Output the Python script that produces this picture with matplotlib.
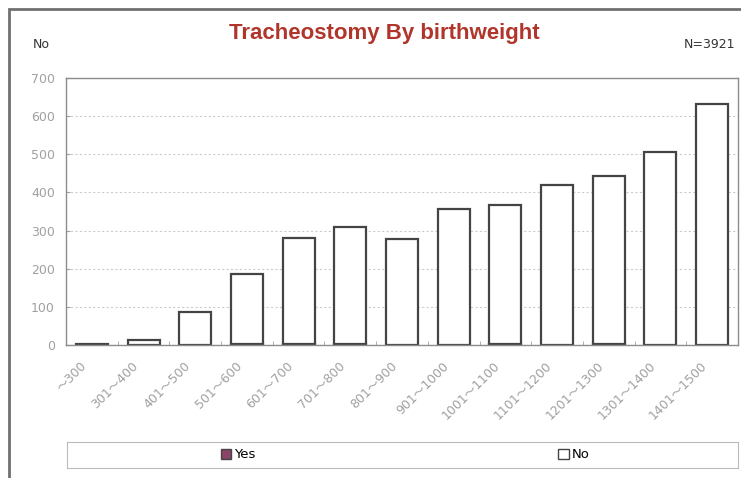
import matplotlib
matplotlib.use("Agg")
import matplotlib.pyplot as plt
import matplotlib.transforms as mtransforms
from matplotlib.patches import Patch, Rectangle
import numpy as np

# --- data ---
categories = ["～300", "301～400", "401～500", "501～600", "601～700", "701～800",
              "801～900", "901～1000", "1001～1100", "1101～1200", "1201～1300",
              "1301～1400", "1401～1500"]
yes_counts = [0, 0, 1, 2, 3, 2, 1, 1, 3, 1, 2, 1, 1]
no_counts = [2, 12, 86, 185, 277, 308, 278, 356, 365, 419, 442, 505, 630]
y_ticks = [0, 100, 200, 300, 400, 500, 600, 700]

plt.rcParams['font.family'] = ['DejaVu Sans', 'Noto Sans CJK JP']

fig = plt.figure(figsize=(7.41, 4.78), dpi=100)
fig.patch.set_facecolor('white')

# outer frame of the chart (left/top edges visible)
fig.add_artist(Rectangle((9 / 741, -0.05), 1.1, 1 - 9 / 478 + 0.05,
                         transform=fig.transFigure, fill=False,
                         edgecolor='#707070', linewidth=2))

ax = fig.add_axes([66 / 741, 1 - 345 / 478, 672 / 741, 267 / 478])
x = np.arange(len(categories))
grey = '#a0a0a0'

ax.bar(x, yes_counts, width=0.62, color='#8a4566', edgecolor='#444444', linewidth=1.6)
ax.bar(x, no_counts, width=0.62, bottom=yes_counts, color='white',
       edgecolor='#444444', linewidth=1.6)

ax.set_xlim(-0.5, len(categories) - 0.5)
ax.set_ylim(0, 700)
ax.set_yticks(y_ticks)
ax.set_yticklabels([str(v) for v in y_ticks], color=grey, fontsize=9)

# category labels: rotated, ending just left of / below each bar centre
ax.set_xticks(x)
ax.set_xticklabels([])
lbl_tr = ax.get_xaxis_transform() + mtransforms.ScaledTranslation(-7 / 100, -19 / 100, fig.dpi_scale_trans)
for xi, cat in zip(x, categories):
    ax.text(xi, 0, cat, transform=lbl_tr, rotation=45, ha='right', va='center',
            rotation_mode='anchor', color=grey, fontsize=9)

ax.set_xticks(np.arange(0.5, len(categories) - 0.5, 1), minor=True)
ax.tick_params(axis='x', which='major', length=0)
ax.tick_params(axis='x', which='minor', direction='in', length=3, color=grey)
ax.tick_params(axis='y', direction='in', length=3, color=grey, pad=8)
ax.yaxis.grid(True, linestyle=(0, (2, 2)), color='#cccccc', linewidth=0.8)
ax.set_axisbelow(True)
for s in ax.spines.values():
    s.set_linestyle((0, (2, 1)))
    s.set_color('#8c8c8c')
    s.set_linewidth(1)

fig.text(384 / 741, 1 - 34 / 478, "Tracheostomy By birthweight", ha='center', va='center',
         fontsize=16, fontweight='bold', color='#b0352b', family='Liberation Sans')
fig.text(33 / 741, 1 - 45 / 478, "No", ha='left', va='center', fontsize=9, color='#333333')
fig.text(735 / 741, 1 - 45 / 478, "N=3921", ha='right', va='center', fontsize=9, color='#333333')

# legend strip
lax = fig.add_axes([67 / 741, 1 - 468 / 478, 671 / 741, 26 / 478])
lax.set_xticks([])
lax.set_yticks([])
for s in lax.spines.values():
    s.set_color('#bbbbbb')
leg1 = lax.legend(handles=[Patch(facecolor='#8a4566', edgecolor='#444444', label='Yes')],
                  loc='center', bbox_to_anchor=(0.255, 0.5), frameon=False,
                  handlelength=0.8, handleheight=0.8, handletextpad=0.2, fontsize=9.5)
lax.add_artist(leg1)
lax.legend(handles=[Patch(facecolor='white', edgecolor='#444444', label='No')],
           loc='center', bbox_to_anchor=(0.755, 0.5), frameon=False,
           handlelength=0.8, handleheight=0.8, handletextpad=0.2, fontsize=9.5)

fig.savefig("out.png", dpi=100)
